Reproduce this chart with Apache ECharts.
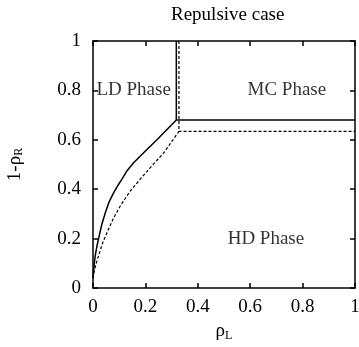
<!DOCTYPE html>
<html>
<head>
<meta charset="utf-8">
<script src="https://cdn.jsdelivr.net/npm/echarts@6/dist/echarts.min.js"></script>
<style>
  html, body { margin: 0; padding: 0; background: #fff; }
  #chart { width: 359px; height: 347px; }
</style>
</head>
<body>
<div id="chart"></div>
<script>
// boundary curves: [rhoL, 1-rhoR]
const solidCurve = [
  [0, 0.04], [0.003, 0.077], [0.006, 0.11], [0.01, 0.14], [0.015, 0.17], [0.021, 0.198],
  [0.033, 0.255], [0.047, 0.305], [0.062, 0.35], [0.079, 0.386], [0.095, 0.415],
  [0.11, 0.44], [0.13, 0.475], [0.155, 0.507], [0.2, 0.555], [0.244, 0.6], [0.318, 0.68]
];
const solidEdges = [[0.318, 1], [0.318, 0.68], [1, 0.68]];
const dashedCurve = [
  [0, 0.04], [0.002, 0.05], [0.005, 0.07], [0.01, 0.09], [0.015, 0.11], [0.021, 0.13],
  [0.036, 0.18], [0.053, 0.224], [0.077, 0.28], [0.104, 0.332], [0.14, 0.39],
  [0.18, 0.44], [0.225, 0.495], [0.27, 0.547], [0.328, 0.634]
];
const dashedEdges = [[0.328, 1], [0.328, 0.634], [1, 0.634]];
const phaseLabels = [
  { name: 'LD Phase', value: [0.155, 0.8] },
  { name: 'MC Phase', value: [0.74, 0.8] },
  { name: 'HD Phase', value: [0.66, 0.2] }
];
const titleText = 'Repulsive case';

const font = 'Liberation Serif';
const black = '#000';

const chart = echarts.init(document.getElementById('chart'));

const baseAxis = {
  type: 'value', min: 0, max: 1, interval: 0.2,
  axisLine: { show: true, onZero: false, lineStyle: { color: black, width: 1.5 } },
  axisTick: { show: true, inside: true, length: 5, lineStyle: { color: black, width: 1.5 } },
  splitLine: { show: false }
};
const subStyle = { fontFamily: font, fontSize: 12, color: black, verticalAlign: 'bottom', padding: [8, 0, 0, 0] };

chart.setOption({
  animation: false,
  title: {
    text: titleText, left: 166, top: 1,
    textStyle: { fontFamily: font, fontSize: 19, fontWeight: 'normal', color: black }
  },
  grid: { left: 93, right: 4, top: 41, bottom: 59, outerBoundsMode: 'none', containLabel: false },
  xAxis: [
    Object.assign({}, baseAxis, {
      position: 'bottom',
      name: 'ρ{s|L}', nameLocation: 'middle', nameGap: 32,
      nameTextStyle: { fontFamily: font, fontSize: 19, color: black, rich: { s: subStyle } },
      axisLabel: { fontFamily: font, fontSize: 19, color: black, margin: 10 }
    }),
    Object.assign({}, baseAxis, { position: 'top', axisLabel: { show: false } })
  ],
  yAxis: [
    Object.assign({}, baseAxis, {
      position: 'left',
      name: '1-ρ{s|R}', nameLocation: 'middle', nameGap: 68, nameRotate: 90,
      nameTextStyle: { fontFamily: font, fontSize: 19, color: black, rich: { s: subStyle } },
      axisLabel: { fontFamily: font, fontSize: 19, color: black, margin: 12 }
    }),
    Object.assign({}, baseAxis, { position: 'right', axisLabel: { show: false } })
  ],
  series: [
    { type: 'line', data: solidCurve, symbol: 'none', lineStyle: { color: black, width: 1.5 } },
    { type: 'line', data: solidEdges, symbol: 'none', lineStyle: { color: black, width: 1.5 } },
    { type: 'line', data: dashedCurve, symbol: 'none', lineStyle: { color: black, width: 1.2, type: [3, 2] } },
    { type: 'line', data: dashedEdges, symbol: 'none', lineStyle: { color: black, width: 1.2, type: [3, 2] } },
    {
      type: 'scatter', data: phaseLabels, symbolSize: 0,
      label: {
        show: true, position: 'inside', formatter: p => p.name,
        fontFamily: font, fontSize: 19, color: black
      }
    }
  ]
});
</script>
</body>
</html>
